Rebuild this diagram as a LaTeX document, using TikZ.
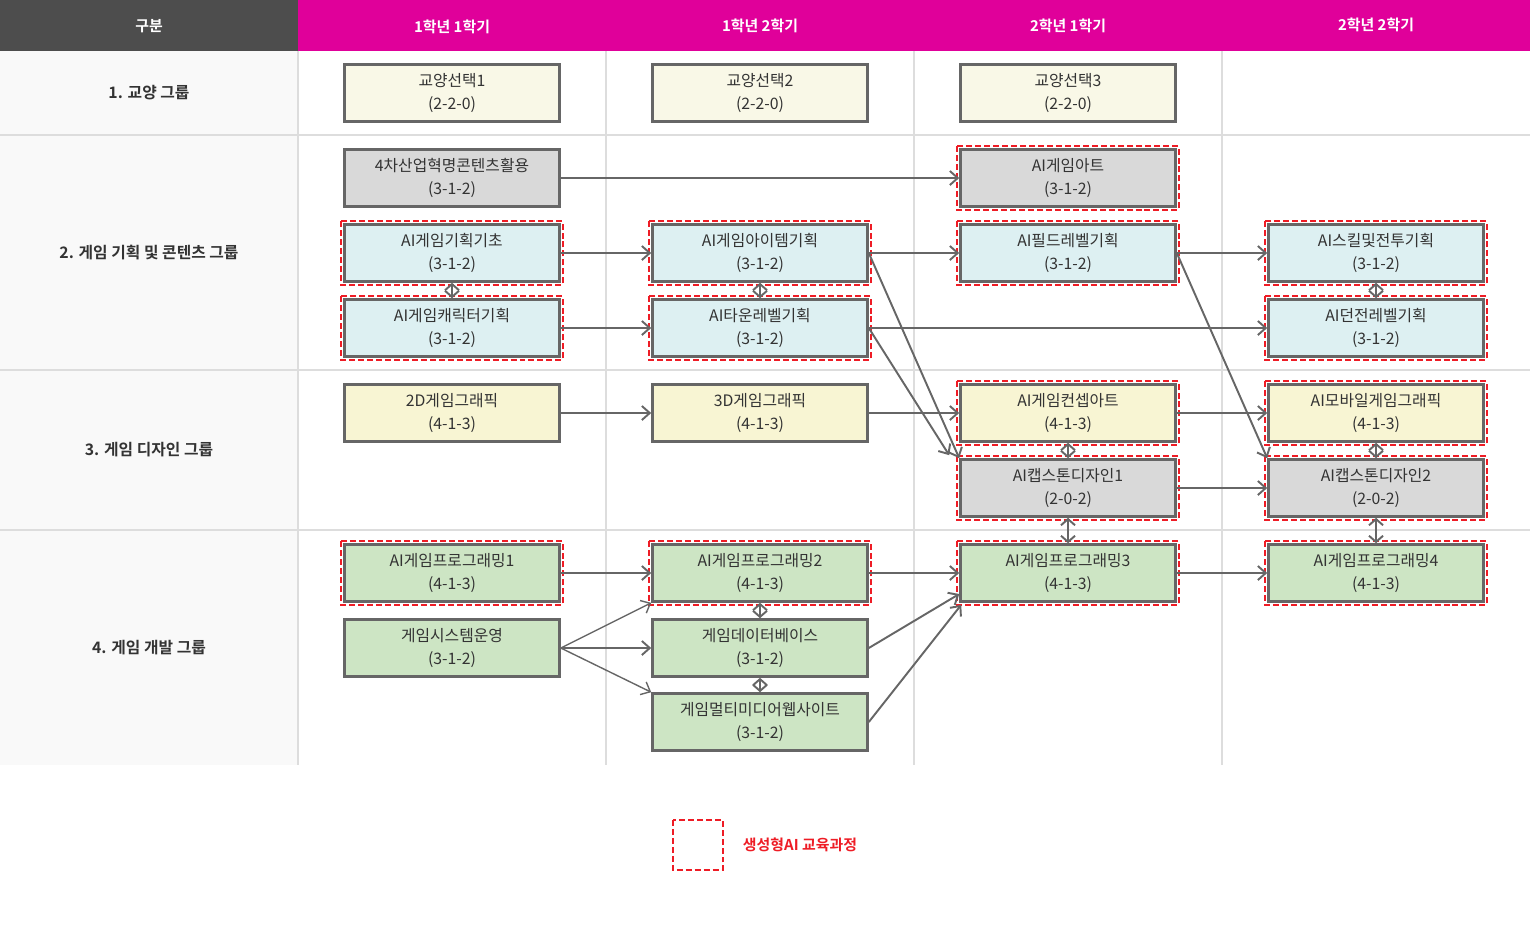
\documentclass[tikz,border=0pt]{standalone}
\usepackage{fontspec}
\setmainfont{Noto Sans CJK KR}[BoldFont={Noto Sans CJK KR Bold}]
\usepackage{tikz}
\usetikzlibrary{arrows.meta, calc}
\definecolor{headpink}{HTML}{E0009A}
\definecolor{headgray}{HTML}{4D4D4D}
\definecolor{sidebg}{HTML}{F9F9F9}
\definecolor{gridgray}{HTML}{DDDDDD}
\definecolor{boxline}{HTML}{666666}
\definecolor{txtgray}{HTML}{333333}
\definecolor{aired}{HTML}{EE1C25}
\definecolor{cgen}{HTML}{F9F8E7}
\definecolor{cgray}{HTML}{D9D9D9}
\definecolor{cblue}{HTML}{DDF0F2}
\definecolor{cyellow}{HTML}{F8F5D3}
\definecolor{cgreen}{HTML}{CDE5C4}

\tikzset{
	course/.style={draw=boxline, line width=1.5pt, fill=#1, minimum width=4.3cm, minimum height=1.14cm, inner sep=0pt, align=center, text=txtgray, font=\fontsize{9}{13}\selectfont},
	headtxt/.style={text=white, font=\bfseries\fontsize{8.5}{10}\selectfont},
	grouptxt/.style={text=txtgray, font=\bfseries\fontsize{9}{10}\selectfont},
	aiframe/.style={draw=aired, line width=1.1pt, dash pattern=on 3.4pt off 1.7pt},
	arr/.style={draw=boxline, line width=1.1pt, -{Straight Barb[length=4.5pt,width=8pt]}},
	darr/.style={draw=boxline, line width=1.1pt, {Straight Barb[length=3.5pt,width=8pt]}-{Straight Barb[length=3.5pt,width=8pt]}}
}

\begin{document}
\begin{tikzpicture}[x=0.02cm, y=-0.02cm]
%	\draw[help lines] (0,0)grid(1530,924);
	\useasboundingbox (0,0) rectangle (1530,924);

	%table
	\fill[sidebg] (0,51) rectangle (298,765);
	\fill[headgray] (0,0) rectangle (298,51);
	\fill[headpink] (298,0) rectangle (1530,51);
	\draw[gridgray, line width=0.6pt] (0,135) -- (1530,135) (0,370) -- (1530,370) (0,530) -- (1530,530);
	\draw[gridgray, line width=0.6pt] (298,51) -- (298,765) (606,51) -- (606,765) (914,51) -- (914,765) (1222,51) -- (1222,765);

	\node[headtxt] (hgroup) at (149,26) {구분};
	\node[headtxt] (h11) at (452,27) {1학년 1학기};
	\node[headtxt] (h12) at (760,26) {1학년 2학기};
	\node[headtxt] (h21) at (1068,26) {2학년 1학기};
	\node[headtxt] (h22) at (1376,25) {2학년 2학기};

	\node[grouptxt] (g1) at (149,93) {1. 교양 그룹};
	\node[grouptxt] (g2) at (149,253) {2. 게임 기획 및 콘텐츠 그룹};
	\node[grouptxt] (g3) at (149,450) {3. 게임 디자인 그룹};
	\node[grouptxt] (g4) at (149,648) {4. 게임 개발 그룹};

	%courses
	\node[course=cgen] (gen1) at (452,93) {교양선택1\\(2-2-0)};
	\node[course=cgen] (gen2) at (760,93) {교양선택2\\(2-2-0)};
	\node[course=cgen] (gen3) at (1068,93) {교양선택3\\(2-2-0)};

	\node[course=cgray] (ind4) at (452,178) {4차산업혁명콘텐츠활용\\(3-1-2)};
	\node[course=cgray] (art) at (1068,178) {AI게임아트\\(3-1-2)};
	\node[course=cblue] (plan) at (452,253) {AI게임기획기초\\(3-1-2)};
	\node[course=cblue] (item) at (760,253) {AI게임아이템기획\\(3-1-2)};
	\node[course=cblue] (field) at (1068,253) {AI필드레벨기획\\(3-1-2)};
	\node[course=cblue] (skill) at (1376,253) {AI스킬및전투기획\\(3-1-2)};
	\node[course=cblue] (chara) at (452,328) {AI게임캐릭터기획\\(3-1-2)};
	\node[course=cblue] (town) at (760,328) {AI타운레벨기획\\(3-1-2)};
	\node[course=cblue] (dungeon) at (1376,328) {AI던전레벨기획\\(3-1-2)};

	\node[course=cyellow] (gfx2d) at (452,413) {2D게임그래픽\\(4-1-3)};
	\node[course=cyellow] (gfx3d) at (760,413) {3D게임그래픽\\(4-1-3)};
	\node[course=cyellow] (concept) at (1068,413) {AI게임컨셉아트\\(4-1-3)};
	\node[course=cyellow] (mobile) at (1376,413) {AI모바일게임그래픽\\(4-1-3)};
	\node[course=cgray] (cap1) at (1068,488) {AI캡스톤디자인1\\(2-0-2)};
	\node[course=cgray] (cap2) at (1376,488) {AI캡스톤디자인2\\(2-0-2)};

	\node[course=cgreen] (prog1) at (452,573) {AI게임프로그래밍1\\(4-1-3)};
	\node[course=cgreen] (prog2) at (760,573) {AI게임프로그래밍2\\(4-1-3)};
	\node[course=cgreen] (prog3) at (1068,573) {AI게임프로그래밍3\\(4-1-3)};
	\node[course=cgreen] (prog4) at (1376,573) {AI게임프로그래밍4\\(4-1-3)};
	\node[course=cgreen] (sys) at (452,648) {게임시스템운영\\(3-1-2)};
	\node[course=cgreen] (db) at (760,648) {게임데이터베이스\\(3-1-2)};
	\node[course=cgreen] (media) at (760,722) {게임멀티미디어웹사이트\\(3-1-2)};

	%AI frames
	\foreach \n in {art,plan,item,field,skill,chara,town,dungeon,concept,mobile,cap1,cap2,prog1,prog2,prog3,prog4}
		\draw[aiframe] ($(\n.north west)+(-2,-2)$) rectangle ($(\n.south east)+(2,2)$);

	%arrows
	\draw[arr] (ind4) -- (art);
	\draw[arr] (plan) -- (item);
	\draw[arr] (item) -- (field);
	\draw[arr] (field) -- (skill);
	\draw[arr] (chara) -- (town);
	\draw[arr] (town) -- (dungeon);
	\draw[arr] (gfx2d) -- (gfx3d);
	\draw[arr] (gfx3d) -- (concept);
	\draw[arr] (concept) -- (mobile);
	\draw[arr] (cap1) -- (cap2);
	\draw[arr] (prog1) -- (prog2);
	\draw[arr] (prog2) -- (prog3);
	\draw[arr] (prog3) -- (prog4);
	\draw[arr] (item.east) -- (cap1.north west);
	\draw[arr] (town.east) -- ($(cap1.north west)+(-10,-3)$);
	\draw[arr] (field.east) -- (cap2.north west);
	\draw[arr, line width=0.8pt] (sys.east) -- (prog2.south west);
	\draw[arr] (sys.east) -- (db.west);
	\draw[arr, line width=0.8pt] (sys.east) -- (media.north west);
	\draw[arr] (db.east) -- ($(prog3.west)+(0,21)$);
	\draw[arr] (media.east) -- ($(prog3.south west)+(2,2)$);

	\draw[darr] (plan) -- (chara);
	\draw[darr] (item) -- (town);
	\draw[darr] (skill) -- (dungeon);
	\draw[darr] (concept) -- (cap1);
	\draw[darr] (mobile) -- (cap2);
	\draw[darr] (cap1) -- (prog3);
	\draw[darr] (cap2) -- (prog4);
	\draw[darr] (prog2) -- (db);
	\draw[darr] (db) -- (media);

	%legend
	\draw[aiframe] (673,820) rectangle (723,870);
	\node[text=aired, font=\bfseries\fontsize{8.5}{10}\selectfont] (legend) at (800,845) {생성형AI 교육과정};
\end{tikzpicture}
\end{document}
